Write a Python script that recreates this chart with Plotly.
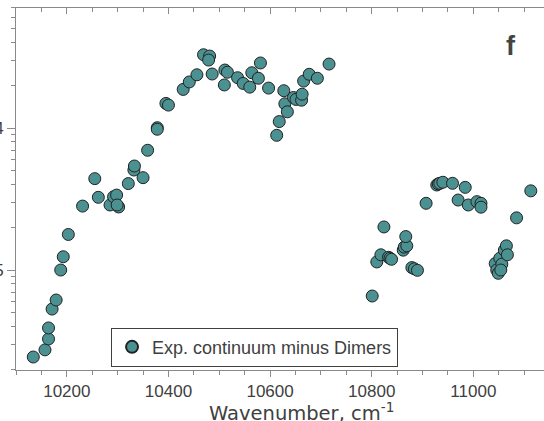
import plotly.graph_objects as go

# Wavenumber (cm^-1) and absorption values of the residual continuum
wavenumber = [
    10134, 10157, 10164, 10164, 10171, 10179, 10188, 10193, 10203, 10231,
    10255, 10262, 10285, 10292, 10298, 10302, 10299, 10321, 10332, 10333,
    10350, 10359, 10378, 10378, 10395, 10400, 10429, 10441, 10456, 10469,
    10481, 10479, 10486, 10510, 10511, 10516, 10536, 10547, 10560, 10564,
    10577, 10581, 10597, 10613, 10618, 10627, 10629, 10634, 10646, 10651,
    10662, 10663, 10666, 10677, 10693, 10716,
    10801, 10810, 10818, 10824, 10833, 10836, 10839, 10862, 10864, 10869,
    10867, 10879, 10884, 10890, 10907, 10928, 10931, 10934, 10940, 10959,
    10970, 10984, 10990, 11007, 11015, 11015, 11043, 11046, 11049, 11052,
    11056, 11054, 11061, 11065, 11067, 11085, 11113,
]
absorption = [
    2.44e-6, 2.74e-6, 3.27e-6, 3.91e-6, 5.31e-6, 6.15e-6, 1.00e-5, 1.24e-5, 1.78e-5, 2.82e-5,
    4.40e-5, 3.25e-5, 2.87e-5, 3.28e-5, 3.37e-5, 2.78e-5, 2.87e-5, 4.06e-5, 5.06e-5, 5.40e-5,
    4.47e-5, 6.97e-5, 1.005e-4, 9.80e-5, 1.49e-4, 1.45e-4, 1.87e-4, 2.11e-4, 2.37e-4, 3.28e-4,
    3.21e-4, 3.01e-4, 2.40e-4, 2.01e-4, 2.56e-4, 2.47e-4, 2.26e-4, 2.06e-4, 1.94e-4, 2.45e-4,
    2.24e-4, 2.87e-4, 1.91e-4, 8.88e-5, 1.11e-4, 1.83e-4, 1.48e-4, 1.30e-4, 1.64e-4, 1.59e-4,
    1.57e-4, 1.73e-4, 2.14e-4, 2.39e-4, 2.24e-4, 2.82e-4,
    6.56e-6, 1.14e-5, 1.28e-5, 2.01e-5, 1.23e-5, 1.21e-5, 1.19e-5, 1.38e-5, 1.45e-5, 1.48e-5,
    1.72e-5, 1.04e-5, 1.02e-5, 9.95e-6, 2.95e-5, 3.97e-5, 4.04e-5, 4.08e-5, 4.15e-5, 4.08e-5,
    3.11e-5, 3.82e-5, 2.87e-5, 3.03e-5, 2.95e-5, 2.77e-5, 1.11e-5, 1.00e-5, 9.48e-6, 1.21e-5,
    1.10e-5, 1.00e-5, 1.38e-5, 1.48e-5, 1.28e-5, 2.33e-5, 3.61e-5,
]

# Axis ticks
x_major = [10200, 10400, 10600, 10800, 11000]
y_major = [1e-5, 1e-4]
y_major_text = ["1E-5", "1E-4"]
y_minor = [m * 10.0 ** e for e in (-6, -5, -4) for m in range(2, 10)]

AXIS_GREY = "#8a8a8a"
TEXT = "#404040"
FONT = "Liberation Sans, Arial, sans-serif"
WIDE_FONT = "DejaVu Sans, sans-serif"

fig = go.Figure()
fig.add_trace(go.Scatter(
    x=wavenumber, y=absorption, mode="markers",
    name="Exp. continuum minus Dimers",
    marker=dict(size=12, color="#4b9191", line=dict(color="#222222", width=1)),
))
# invisible companion trace so the top axis is rendered
fig.add_trace(go.Scatter(
    x=[wavenumber[0]], y=[absorption[0]], xaxis="x2", mode="markers",
    marker=dict(opacity=0), showlegend=False, hoverinfo="skip",
))

fig.update_layout(
    width=544, height=421,
    margin=dict(l=16, r=0, t=8, b=51),
    paper_bgcolor="white", plot_bgcolor="white",
    font=dict(family=FONT, color=TEXT, size=17),
    showlegend=True,
    legend=dict(
        x=0.18, y=0.117, xanchor="left", yanchor="top",
        bordercolor="#404040", borderwidth=1, bgcolor="white",
        font=dict(size=18, color=TEXT, family=FONT),
        itemsizing="constant",
        tracegroupgap=0,
    ),
    xaxis=dict(
        range=[10100, 11139], showgrid=False, zeroline=False, automargin=False,
        showline=True, linecolor=AXIS_GREY, linewidth=1,
        ticks="outside", ticklen=6, tickcolor=AXIS_GREY,
        tickmode="array", tickvals=x_major, tickformat="d",
        minor=dict(ticks="outside", ticklen=4, dtick=50, tick0=10000, tickcolor=AXIS_GREY),
        tickfont=dict(size=17, color=TEXT),
    ),
    xaxis2=dict(
        overlaying="x", side="top", matches="x", showgrid=False, zeroline=False,
        automargin=False,
        showline=True, linecolor=AXIS_GREY, linewidth=1,
        ticks="inside", ticklen=6, tickcolor=AXIS_GREY,
        tickmode="array", tickvals=x_major, showticklabels=False,
        minor=dict(ticks="inside", ticklen=4, dtick=50, tick0=10000, tickcolor=AXIS_GREY),
    ),
    yaxis=dict(
        type="log", range=[-5.704, -3.155], showgrid=False, zeroline=False,
        automargin=False,
        showline=True, linecolor=AXIS_GREY, linewidth=1,
        ticks="outside", ticklen=8, tickcolor=AXIS_GREY,
        tickmode="array", tickvals=y_major, ticktext=y_major_text,
        minor=dict(ticks="outside", ticklen=4, tickmode="array", tickvals=y_minor,
                   tickcolor=AXIS_GREY),
        tickfont=dict(size=17, color=TEXT),
    ),
    annotations=[
        dict(
            text="Wavenumber, cm<sup>-1</sup>", x=0.54, y=-0.116,
            xref="paper", yref="paper", xanchor="center", yanchor="middle",
            showarrow=False, font=dict(size=19.5, color=TEXT, family=WIDE_FONT),
        ),
        dict(
            text="<b>f</b>", x=0.937, y=0.895, xref="paper", yref="paper",
            xanchor="center", yanchor="middle", showarrow=False,
            font=dict(size=27, color="#444444", family=FONT),
        ),
    ],
)

fig.write_html("out.html")
